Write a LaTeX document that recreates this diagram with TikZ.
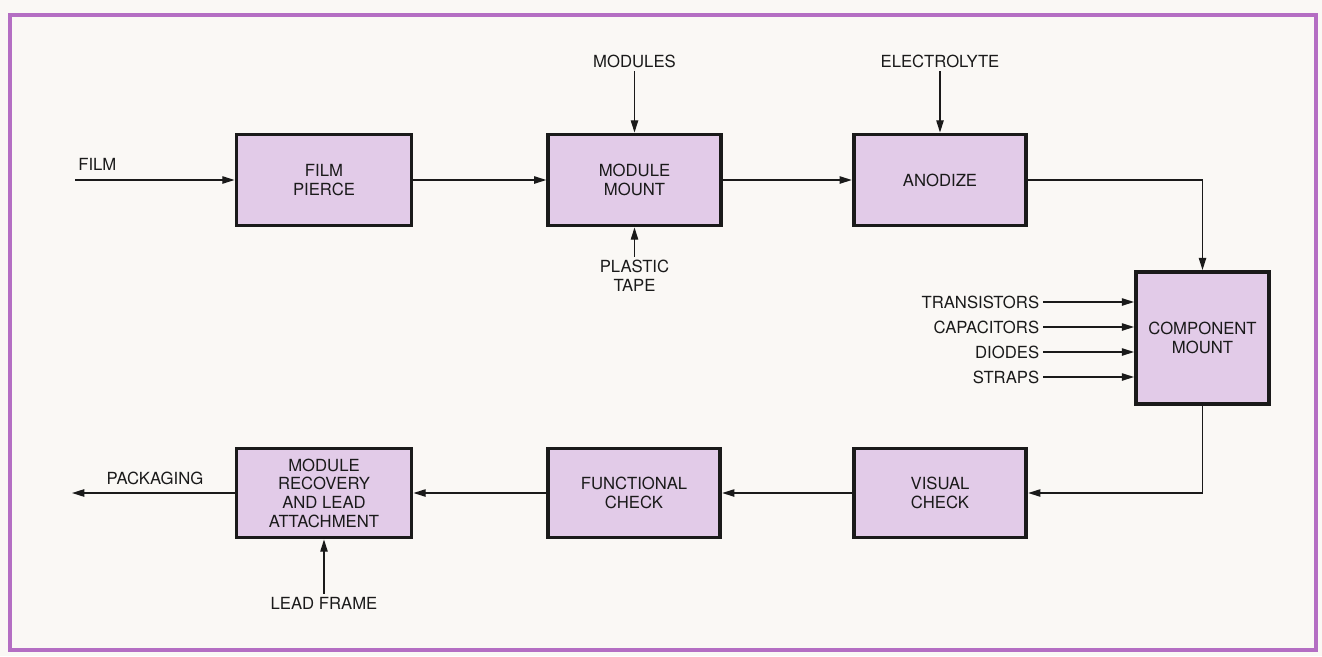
\documentclass[tikz,border=0pt]{standalone}
\usepackage{fontspec}
\setmainfont{TeX Gyre Heros}
\usetikzlibrary{arrows.meta}
\definecolor{framepurple}{HTML}{B46EC3}
\definecolor{boxlilac}{HTML}{E2CBE8}
\definecolor{paper}{HTML}{FAF8F5}
\definecolor{ink}{HTML}{1A1A1A}

\begin{document}
\begin{tikzpicture}[x=0.02cm, y=-0.02cm,
    stage/.style={draw=ink, line width=2.2pt, fill=boxlilac, text=ink,
        minimum width=3.45cm, minimum height=1.82cm, align=center,
        font=\fontsize{9.5}{10.6}\selectfont},
    lbl/.style={text=ink, inner sep=2pt, align=center,
        font=\fontsize{9.5}{10.6}\selectfont},
    flow/.style={draw=ink, line width=0.8pt, -{Triangle[length=7pt,width=4.2pt]}}]
        % ---- paper and frame ----
        \fill[paper] (0,0) rectangle (1322,656);
        \draw[framepurple, line width=1.8pt] (10,15) rectangle (1316,650);
        % ---- process stages ----
        \node[stage, minimum width=3.5cm] (fpierce) at (324,180) {FILM\\PIERCE};
        \node[stage] (mmount) at (634.5,180) {MODULE\\MOUNT};
        \node[stage] (anodize) at (940,180) {ANODIZE};
        \node[stage, minimum width=2.66cm, minimum height=2.64cm] (cmount) at (1202.5,338) {COMPONENT\\MOUNT};
        \node[stage, minimum height=1.78cm] (vcheck) at (940,493) {VISUAL\\CHECK};
        \node[stage, minimum height=1.78cm] (fcheck) at (634,493) {FUNCTIONAL\\CHECK};
        \node[stage, minimum width=3.5cm, minimum height=1.78cm] (mrecov) at (324,493) {MODULE\\RECOVERY\\AND LEAD\\ATTACHMENT};
        % ---- feeds ----
        \coordinate (filmin) at (75,180);
        \node[lbl, anchor=south west] (filmlbl) at (74.5,174) {FILM};
        \node[lbl] (modules) at (634.5,61) {MODULES};
        \node[lbl] (tape) at (634.5,276) {PLASTIC\\TAPE};
        \node[lbl] (electro) at (940,61) {ELECTROLYTE};
        \node[lbl] (leadlbl) at (324,603.5) {LEAD FRAME};
        \coordinate (packout) at (72,493);
        \node[lbl] (packlbl) at (155,478.5) {PACKAGING};
        % ---- component inputs ----
        \foreach \nm/\part/\yy in {trans/TRANSISTORS/302, caps/CAPACITORS/327, diodes/DIODES/352, straps/STRAPS/377} {
            \node[lbl, anchor=east] (\nm) at (1043,\yy) {\part};
            \draw[flow] (\nm.east) -- (\nm.east -| cmount.west);
        }
        % ---- main flow ----
        \draw[flow] (filmin) -- (fpierce.west);
        \draw[flow] (fpierce.east) -- (mmount.west);
        \draw[flow] (mmount.east) -- (anodize.west);
        \draw[flow] (anodize.east) -| (cmount.north);
        \draw[flow] (cmount.south) |- (vcheck.east);
        \draw[flow] (vcheck.west) -- (fcheck.east);
        \draw[flow] (fcheck.west) -- (mrecov.east);
        \draw[flow] (mrecov.west) -- (packout);
        % ---- side inputs ----
        \draw[flow] (modules.south) -- (mmount.north);
        \draw[flow] (tape.north) -- (mmount.south);
        \draw[flow] (electro.south) -- (anodize.north);
        \draw[flow] (leadlbl.north) -- (mrecov.south);
\end{tikzpicture}
\end{document}
